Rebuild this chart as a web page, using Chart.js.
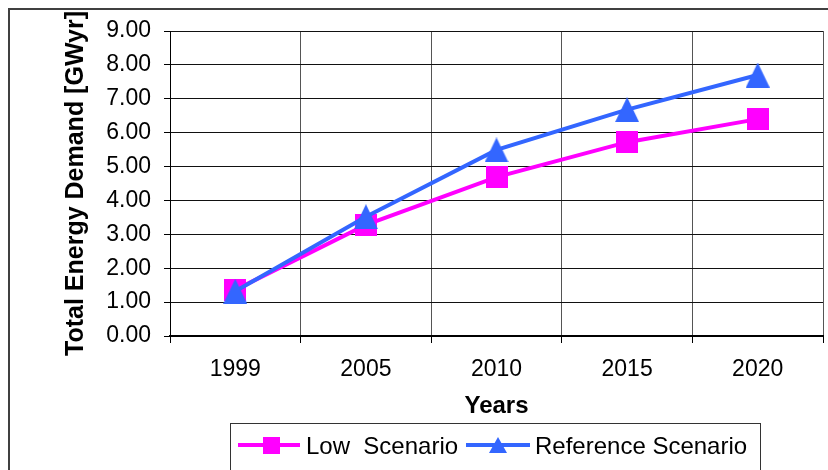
<!DOCTYPE html>
<html lang="en">
<head>
  <meta charset="UTF-8">
  <title>Total Energy Demand</title>
  <style>
    html, body { margin: 0; padding: 0; background: #fff; }
    #wrap { width: 828px; height: 470px; }
  </style>
</head>
<body>
  <div id="wrap"><canvas id="demandChart" width="828" height="470"></canvas></div>

  <script src="https://cdn.jsdelivr.net/npm/chart.js"></script>
  <script>
    // data
    const years = ['1999', '2005', '2010', '2015', '2020'];
    const lowScenario = [1.36, 3.28, 4.69, 5.72, 6.40];
    const referenceScenario = [1.32, 3.52, 5.49, 6.68, 7.70];
    const yMin = 0, yMax = 9, yStep = 1;

    const PINK = '#FF00FF';
    const BLUE = '#3366FF';
    const FONT = "'Liberation Sans', Arial, sans-serif";

    // excel-like marker shapes
    function squareMarker(size, color) {
      const c = document.createElement('canvas');
      c.width = size; c.height = size;
      const g = c.getContext('2d');
      g.fillStyle = color;
      g.fillRect(0, 0, size, size);
      return c;
    }
    function triangleMarker(w, h, color) {
      const c = document.createElement('canvas');
      c.width = w; c.height = h;
      const g = c.getContext('2d');
      g.fillStyle = color;
      g.beginPath();
      g.moveTo(w / 2, 0);
      g.lineTo(w, h);
      g.lineTo(0, h);
      g.closePath();
      g.fill();
      return c;
    }

    const series = [
      { label: 'Low  Scenario', data: lowScenario, color: PINK,
        marker: squareMarker(22, PINK), legendMarker: squareMarker(17, PINK) },
      { label: 'Reference Scenario', data: referenceScenario, color: BLUE,
        marker: triangleMarker(24, 25, BLUE), legendMarker: triangleMarker(18, 16, BLUE) }
    ];

    // outer frame + boxed legend
    const framePlugin = {
      id: 'frame',
      afterDraw(chart) {
        const ctx = chart.ctx;
        ctx.save();
        ctx.strokeStyle = '#404040';
        ctx.lineWidth = 2;
        ctx.strokeRect(9, 9, 860, 500);

        ctx.strokeStyle = '#333';
        ctx.lineWidth = 1;
        ctx.strokeRect(230.5, 423.5, 530, 80);

        const slots = [
          { x0: 238, x1: 300, mx: 271, tx: 306 },
          { x0: 466, x1: 530, mx: 498, tx: 535 }
        ];
        const y = 445;
        chart.data.datasets.forEach((ds, i) => {
          const s = slots[i];
          ctx.strokeStyle = ds.borderColor;
          ctx.lineWidth = 4;
          ctx.beginPath();
          ctx.moveTo(s.x0, y);
          ctx.lineTo(s.x1, y);
          ctx.stroke();
          const m = series[i].legendMarker;
          ctx.drawImage(m, s.mx - m.width / 2, y - m.height / 2);
          ctx.fillStyle = '#000';
          ctx.font = '24px ' + FONT;
          ctx.textBaseline = 'alphabetic';
          ctx.fillText(ds.label, s.tx, 454);
        });
        ctx.restore();
      }
    };

    const ctx = document.getElementById('demandChart').getContext('2d');
    new Chart(ctx, {
      type: 'line',
      data: {
        labels: years,
        datasets: series.map((s, i) => ({
          label: s.label,
          data: s.data,
          borderColor: s.color,
          backgroundColor: s.color,
          borderWidth: 4,
          pointStyle: s.marker,
          pointRadius: 12,
          tension: 0,
          clip: false,
          order: series.length - i
        }))
      },
      options: {
        responsive: false,
        animation: false,
        layout: { autoPadding: false, padding: { left: 0, top: 31, right: 5, bottom: 44 } },
        plugins: {
          legend: { display: false },
          tooltip: { enabled: false }
        },
        scales: {
          x: {
            offset: true,
            afterFit: (scale) => { scale.height = 90; },
            grid: { offset: true, color: '#555', tickColor: '#000', tickLength: 7 },
            border: { color: '#000', width: 2 },
            ticks: { color: '#000', padding: 13, font: { family: FONT, size: 23 } },
            title: {
              display: true,
              text: 'Years',
              color: '#000',
              padding: { top: 0, bottom: 5 },
              font: { family: FONT, size: 24, weight: 'bold' }
            }
          },
          y: {
            min: yMin,
            max: yMax,
            afterFit: (scale) => { scale.width = 170; },
            grid: { color: '#111', tickColor: '#000', tickLength: 6 },
            border: { color: '#000', width: 1 },
            ticks: {
              stepSize: yStep,
              color: '#000',
              padding: 13,
              font: { family: FONT, size: 23 },
              callback: (v) => Number(v).toFixed(2)
            },
            title: {
              display: true,
              text: 'Total Energy Demand [GWyr]',
              color: '#000',
              padding: { top: 61, bottom: 0 },
              font: { family: FONT, size: 25, weight: 'bold' }
            }
          }
        }
      },
      plugins: [framePlugin]
    });
  </script>
</body>
</html>
